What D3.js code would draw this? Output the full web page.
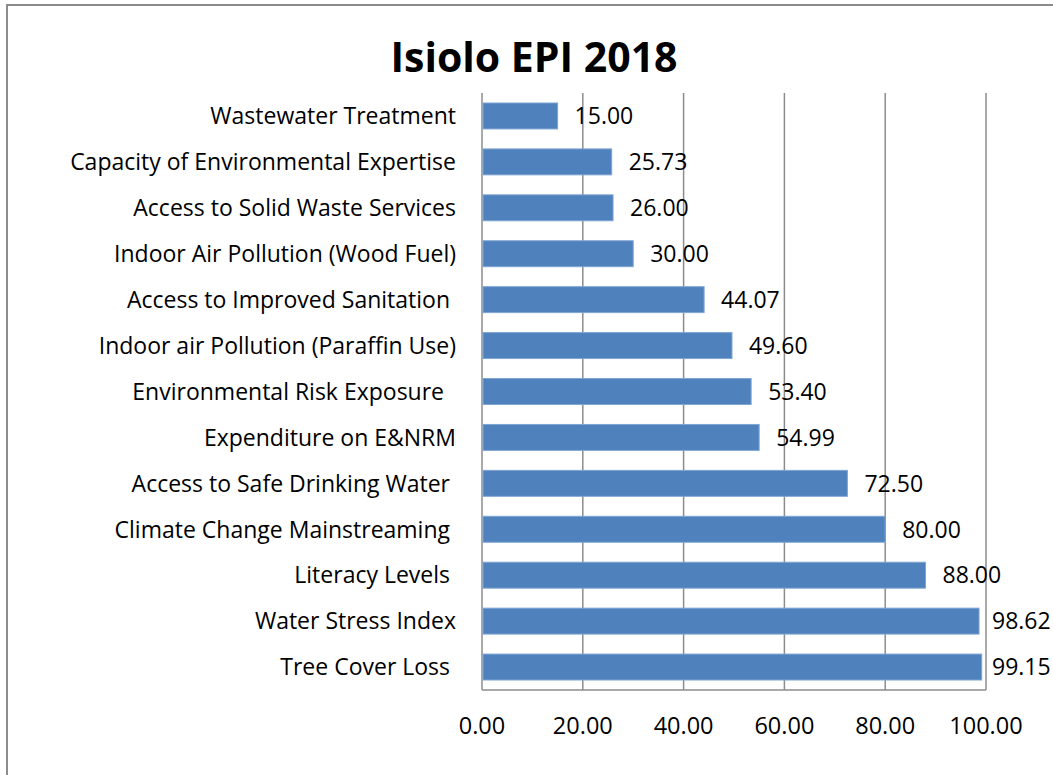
<!DOCTYPE html>
<html>
<head>
<meta charset="utf-8">
<script src="https://cdn.jsdelivr.net/npm/d3@7"></script>
<style>
  body { margin: 0; background: #fff; }
  text { font-family: "Open Sans", sans-serif; fill: #000; }
</style>
</head>
<body>
<svg id="chart" width="1053" height="775"></svg>
<script>
// data, top to bottom as shown
const categories = [
  "Wastewater Treatment",
  "Capacity of Environmental Expertise",
  "Access to Solid Waste Services",
  "Indoor Air Pollution (Wood Fuel)",
  "Access to Improved Sanitation ",
  "Indoor air Pollution (Paraffin Use)",
  "Environmental Risk Exposure  ",
  "Expenditure on E&NRM",
  "Access to Safe Drinking Water ",
  "Climate Change Mainstreaming ",
  "Literacy Levels ",
  "Water Stress Index",
  "Tree Cover Loss "
]
const values = [15.00, 25.73, 26.00, 30.00, 44.07, 49.60, 53.40, 54.99, 72.50, 80.00, 88.00, 98.62, 99.15]
const ticks = [0, 20, 40, 60, 80, 100]
const title = "Isiolo EPI 2018"

const width = 1053
const height = 775
const margin = { left: 482, right: 67, top: 93, bottom: 85 }

const svg = d3.select("#chart")

// outer chart border (right and bottom run off the picture)
svg.append("rect")
  .attr("x", 7)
  .attr("y", 5)
  .attr("width", width + 10)
  .attr("height", height + 10)
  .attr("fill", "#fff")
  .attr("stroke", "#8c8c8c")
  .attr("stroke-width", 2)

const x = d3.scaleLinear()
  .domain([0, 100])
  .range([margin.left, width - margin.right])

const y = d3.scaleBand()
  .domain(categories)
  .range([margin.top, height - margin.bottom])
  .paddingInner(0.435)
  .paddingOuter(0.2175)

// gridlines
svg.append("g")
  .selectAll("line")
  .data(ticks)
  .enter()
  .append("line")
  .attr("x1", d => x(d))
  .attr("x2", d => x(d))
  .attr("y1", margin.top)
  .attr("y2", height - margin.bottom)
  .attr("stroke", "#8c8c8c")
  .attr("stroke-width", 1.5)

// bottom axis line
svg.append("line")
  .attr("x1", x(0))
  .attr("x2", x(100))
  .attr("y1", height - margin.bottom)
  .attr("y2", height - margin.bottom)
  .attr("stroke", "#8c8c8c")
  .attr("stroke-width", 1.5)

// bars
svg.append("g")
  .selectAll("rect")
  .data(values)
  .enter()
  .append("rect")
  .attr("x", x(0) + 1)
  .attr("y", (d, i) => y(categories[i]))
  .attr("width", d => x(d) - x(0) - 1)
  .attr("height", y.bandwidth())
  .attr("fill", "#4f81bd")
  .attr("stroke", "#7fa5d3")
  .attr("stroke-width", 1)

// value labels
svg.append("g")
  .selectAll("text")
  .data(values)
  .enter()
  .append("text")
  .attr("x", d => Math.min(x(d) + 17, x(100) + 6))
  .attr("y", (d, i) => y(categories[i]) + y.bandwidth() / 2)
  .attr("dy", "0.36em")
  .attr("font-size", 23)
  .text(d => d.toFixed(2))

// category labels
svg.append("g")
  .selectAll("text")
  .data(categories)
  .enter()
  .append("text")
  .attr("x", x(0) - 26)
  .attr("y", d => y(d) + y.bandwidth() / 2)
  .attr("dy", "0.36em")
  .attr("text-anchor", "end")
  .attr("font-size", 23)
  .style("white-space", "pre")
  .text(d => d)

// x tick labels
svg.append("g")
  .selectAll("text")
  .data(ticks)
  .enter()
  .append("text")
  .attr("x", d => x(d))
  .attr("y", 726)
  .attr("dy", "0.36em")
  .attr("text-anchor", "middle")
  .attr("font-size", 23.5)
  .text(d => d.toFixed(2))

// title
svg.append("text")
  .attr("x", 534)
  .attr("y", 57)
  .attr("dy", "0.36em")
  .attr("text-anchor", "middle")
  .attr("font-size", 41)
  .attr("font-weight", "bold")
  .text(title)
</script>
</body>
</html>
